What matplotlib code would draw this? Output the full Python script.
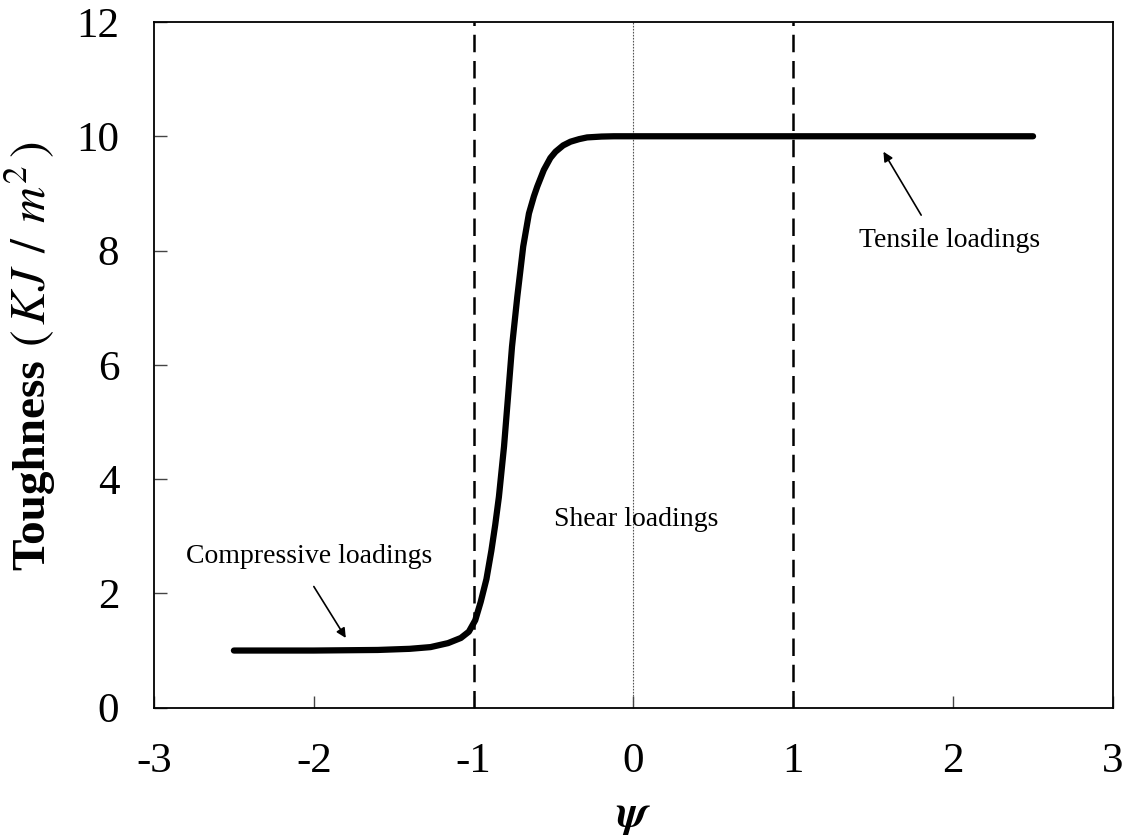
import matplotlib
matplotlib.use("Agg")
import matplotlib.pyplot as plt

plt.rcParams['font.family'] = ['Liberation Serif', 'DejaVu Serif']
plt.rcParams['mathtext.fontset'] = 'stix'

# curve
psi = [-2.5, -2.0, -1.6, -1.4, -1.27, -1.16, -1.08, -1.03, -0.99, -0.956,
       -0.92, -0.889, -0.865, -0.842, -0.81, -0.785, -0.76, -0.727, -0.69,
       -0.654, -0.623, -0.602, -0.561, -0.52, -0.4875, -0.44, -0.394, -0.34,
       -0.29, -0.2, -0.123, 2.5]
toughness = [1.0, 1.0, 1.01, 1.03, 1.06, 1.13, 1.22, 1.33, 1.53, 1.85,
             2.25, 2.75, 3.2, 3.69, 4.57, 5.44, 6.32, 7.19, 8.07,
             8.65, 8.95, 9.12, 9.41, 9.62, 9.73, 9.84, 9.905, 9.95,
             9.98, 9.995, 10.0, 10.0]

boundaries = [-1, 1]
x_ticks = [-3, -2, -1, 0, 1, 2, 3]
y_ticks = [0, 2, 4, 6, 8, 10, 12]

fig = plt.figure(figsize=(11.29, 8.36), dpi=100)
ax = fig.add_axes([0.1364, 0.1535, 0.8494, 0.8202])

ax.plot(psi, toughness, color='black', lw=4.5, solid_capstyle='round',
        solid_joinstyle='round', zorder=3)
for b in boundaries:
    ax.axvline(b, color='black', lw=1.8, linestyle=(0, (7, 3.5)), zorder=2)
ax.axvline(0, color='#555555', lw=0.8, linestyle=(0, (1.5, 1.2)), zorder=1)

ax.set_xlim(-3, 3)
ax.set_ylim(0, 12)
ax.set_xticks(x_ticks)
ax.set_yticks(y_ticks)
ax.set_xticklabels([str(t) for t in x_ticks])
ax.tick_params(direction='in', length=9, width=1.0, color='#444444',
               labelsize=31, pad=25)
for s in ax.spines.values():
    s.set_linewidth(1.3)

ax.set_xlabel(r'$\boldsymbol{\psi}$', fontsize=33, labelpad=10)

# y label: bold word plus a larger math part
fig.text(0.039, 0.318, 'Toughness', fontsize=34, fontweight='bold',
         rotation=90, rotation_mode='anchor', ha='left', va='baseline')
fig.text(0.041, 0.585, r'$(\,KJ\;\,/\;\,m^2\,)$', fontsize=36,
         rotation=90, rotation_mode='anchor', ha='left', va='baseline')

arrow = dict(arrowstyle='-|>', color='black', lw=1.2, mutation_scale=14,
             shrinkA=0, shrinkB=0)
ax.annotate('', xy=(-1.8, 1.22), xytext=(-2.0, 2.12), arrowprops=arrow)
ax.annotate('', xy=(1.564, 9.73), xytext=(1.80, 8.62), arrowprops=arrow)
ax.text(-2.03, 2.64, 'Compressive loadings', fontsize=20, ha='center', va='center')
ax.text(1.975, 8.18, 'Tensile loadings', fontsize=20, ha='center', va='center')
ax.text(0.02, 3.3, 'Shear loadings', fontsize=20, ha='center', va='center')

fig.savefig('out.png', dpi=100)
